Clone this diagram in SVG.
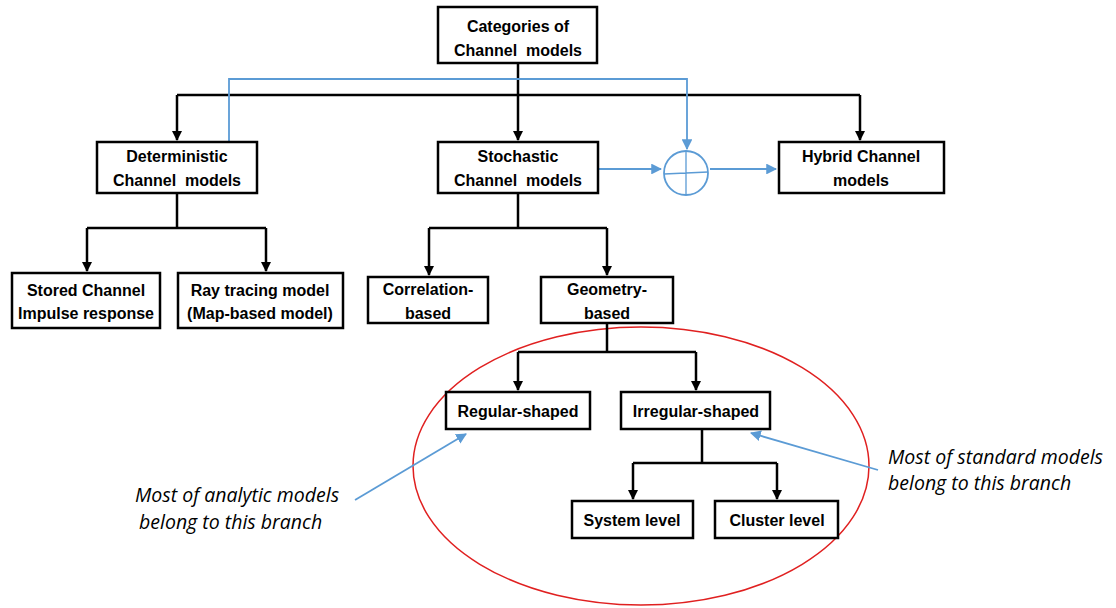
<svg xmlns="http://www.w3.org/2000/svg" width="1116" height="608" viewBox="0 0 1116 608" xml:space="preserve">
  <style>
    .box { fill: #fff; stroke: #000; stroke-width: 2.5; }
    .lbl { font-family: "Liberation Sans", Arial, sans-serif; font-weight: bold; font-size: 16px; text-anchor: middle; fill: #000; white-space: pre; }
    .note { font-family: "Open Sans", "Liberation Sans", sans-serif; font-style: italic; font-size: 19.5px; fill: #000; }
    .wire { fill: none; stroke: #000; stroke-width: 2.5; }
    .blue { fill: none; stroke: #5B9BD5; stroke-width: 1.8; }
  </style>
  <defs>
    <marker id="ah" viewBox="0 0 10 10" refX="9" refY="5" markerWidth="4" markerHeight="4" orient="auto" markerUnits="strokeWidth">
      <path d="M0,0 L10,5 L0,10 Z" fill="#000"/>
    </marker>
    <marker id="ahb" viewBox="0 0 10 10" refX="9" refY="5" markerWidth="6" markerHeight="6" orient="auto" markerUnits="strokeWidth">
      <path d="M0,0 L10,5 L0,10 Z" fill="#5B9BD5"/>
    </marker>
  </defs>

  <rect width="1116" height="608" fill="#fff"/>

  <!-- region enclosing the geometry-based branch -->
  <ellipse cx="641" cy="466" rx="228" ry="139" fill="none" stroke="#E02020" stroke-width="1.5"/>

  <g id="connectors">
    <!-- root to first level -->
    <path class="wire" d="M518,63 V95"/>
    <path class="wire" d="M177,95 H860"/>
    <path class="wire" d="M177,95 V140" marker-end="url(#ah)"/>
    <path class="wire" d="M518,95 V140" marker-end="url(#ah)"/>
    <path class="wire" d="M860,95 V140" marker-end="url(#ah)"/>
    <!-- deterministic children -->
    <path class="wire" d="M177,193 V228"/>
    <path class="wire" d="M87,228 H266"/>
    <path class="wire" d="M87,228 V271" marker-end="url(#ah)"/>
    <path class="wire" d="M266,228 V271" marker-end="url(#ah)"/>
    <!-- stochastic children -->
    <path class="wire" d="M518,193 V228"/>
    <path class="wire" d="M429,228 H607"/>
    <path class="wire" d="M429,228 V275" marker-end="url(#ah)"/>
    <path class="wire" d="M607,228 V275" marker-end="url(#ah)"/>
    <!-- geometry-based children -->
    <path class="wire" d="M607,323 V352"/>
    <path class="wire" d="M518,352 H696"/>
    <path class="wire" d="M518,352 V390" marker-end="url(#ah)"/>
    <path class="wire" d="M696,352 V390" marker-end="url(#ah)"/>
    <!-- irregular-shaped children -->
    <path class="wire" d="M702,429 V463"/>
    <path class="wire" d="M633,463 H777"/>
    <path class="wire" d="M633,463 V499" marker-end="url(#ah)"/>
    <path class="wire" d="M777,463 V499" marker-end="url(#ah)"/>

    <!-- combination into hybrid models -->
    <path class="blue" d="M229,142 V79 H687 V149" marker-end="url(#ahb)"/>
    <path class="blue" d="M598,169 H661" marker-end="url(#ahb)"/>
    <path class="blue" d="M710,169 H776" marker-end="url(#ahb)"/>

    <!-- annotation pointers -->
    <path class="blue" d="M355,500 L466,434" marker-end="url(#ahb)"/>
    <path class="blue" d="M878,470 L751,433" marker-end="url(#ahb)"/>
  </g>

  <g id="sum">
    <circle cx="686" cy="173" r="22" fill="#fff" stroke="#5B9BD5" stroke-width="1.8"/>
    <path d="M686,151 V195 M664,174 L708,172" stroke="#5B9BD5" stroke-width="1.3" fill="none"/>
  </g>

  <g id="categories">
    <rect class="box" x="438" y="7" width="159" height="56"/>
    <text class="lbl" x="518" y="32">Categories of</text>
    <text class="lbl" x="518" y="56">Channel  models</text>
  </g>

  <g id="deterministic">
    <rect class="box" x="97" y="142" width="160" height="51"/>
    <text class="lbl" x="177" y="162">Deterministic</text>
    <text class="lbl" x="177" y="186">Channel  models</text>
  </g>

  <g id="stochastic">
    <rect class="box" x="438" y="142" width="160" height="51"/>
    <text class="lbl" x="518" y="162">Stochastic</text>
    <text class="lbl" x="518" y="186">Channel  models</text>
  </g>

  <g id="hybrid">
    <rect class="box" x="779" y="142" width="165" height="51"/>
    <text class="lbl" x="861" y="162">Hybrid Channel</text>
    <text class="lbl" x="861" y="186">models</text>
  </g>

  <g id="stored">
    <rect class="box" x="12" y="273" width="148" height="55"/>
    <text class="lbl" x="86" y="296">Stored Channel</text>
    <text class="lbl" x="86" y="319">Impulse response</text>
  </g>

  <g id="raytracing">
    <rect class="box" x="178" y="273" width="165" height="55"/>
    <text class="lbl" x="260" y="296">Ray tracing model</text>
    <text class="lbl" x="260" y="319">(Map-based model)</text>
  </g>

  <g id="correlation">
    <rect class="box" x="368" y="277" width="120" height="46"/>
    <text class="lbl" x="428" y="295">Correlation-</text>
    <text class="lbl" x="428" y="319">based</text>
  </g>

  <g id="geometry">
    <rect class="box" x="541" y="277" width="132" height="46"/>
    <text class="lbl" x="607" y="295">Geometry-</text>
    <text class="lbl" x="607" y="319">based</text>
  </g>

  <g id="regular">
    <rect class="box" x="446" y="392" width="144" height="37"/>
    <text class="lbl" x="518" y="417">Regular-shaped</text>
  </g>

  <g id="irregular">
    <rect class="box" x="621" y="392" width="149" height="37"/>
    <text class="lbl" x="696" y="417">Irregular-shaped</text>
  </g>

  <g id="system">
    <rect class="box" x="572" y="501" width="121" height="37"/>
    <text class="lbl" x="632" y="526">System level</text>
  </g>

  <g id="cluster">
    <rect class="box" x="715" y="501" width="123" height="37"/>
    <text class="lbl" x="777" y="526">Cluster level</text>
  </g>

  <g id="notes">
    <text class="note" x="135" y="502">Most of analytic models</text>
    <text class="note" x="139" y="529">belong to this branch</text>
    <text class="note" x="888" y="464">Most of standard models</text>
    <text class="note" x="888" y="490">belong to this branch</text>
  </g>
</svg>
